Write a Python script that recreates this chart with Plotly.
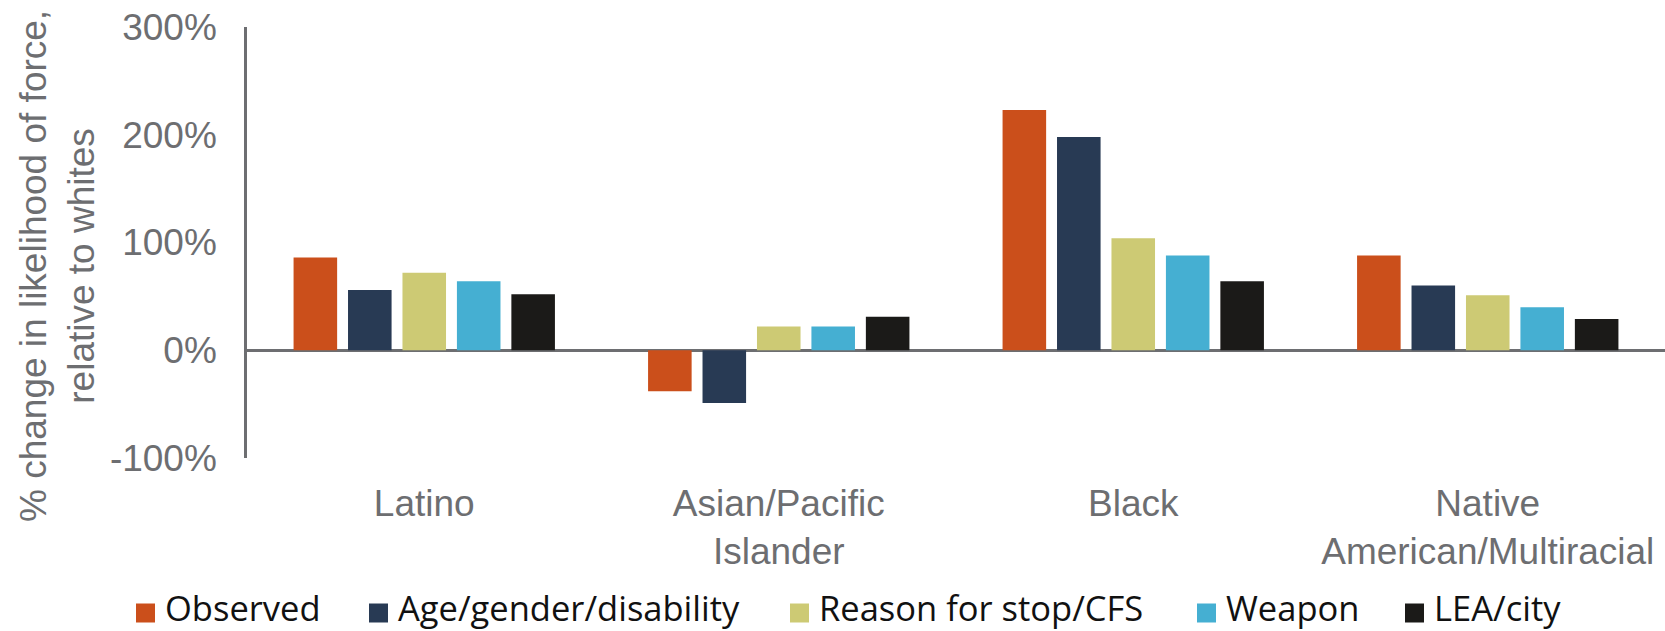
import plotly.graph_objects as go

# Groups along the x axis and the adjustment steps shown as bars
categories = ["Latino", "Asian/Pacific<br>Islander", "Black", "Native<br>American/Multiracial"]
series_names = ["Observed", "Age/gender/disability", "Reason for stop/CFS", "Weapon", "LEA/city"]

# % change in likelihood of force, relative to whites (one list per series)
observed = [86, -38, 223, 88]
age_gender_disability = [56, -49, 198, 60]
reason_for_stop = [72, 22, 104, 51]
weapon = [64, 22, 88, 40]
lea_city = [52, 31, 64, 29]

y_tick_values = [-100, 0, 100, 200, 300]
y_tick_labels = ["-100%", "0%", "100%", "200%", "300%"]

series_values = [observed, age_gender_disability, reason_for_stop, weapon, lea_city]
colors = ["#CB4F1B", "#283A54", "#CDCA74", "#45AFD2", "#1B1A18"]

GRAY = "#6D6E71"
AXIS_FONT = "Liberation Sans, Arial, sans-serif"

fig = go.Figure()
for name, vals, col in zip(series_names, series_values, colors):
    fig.add_trace(go.Bar(
        x=categories, y=vals, name=name,
        marker=dict(color=col, line=dict(width=0)),
        showlegend=False,
    ))

W, H = 1665, 631
L, T, B = 247, 27, 173
PW, PH = W - L, H - T - B


def px_x(px):
    return (px - L) / PW


def px_y(py):
    return 1 - (py - T) / PH


fig.update_layout(
    width=W, height=H,
    margin=dict(l=L, r=0, t=T, b=B),
    paper_bgcolor="white", plot_bgcolor="white",
    barmode="group", bargap=0.232, bargroupgap=0.2,
    font=dict(family=AXIS_FONT, color=GRAY),
    xaxis=dict(
        showline=False, ticks="", showgrid=False,
        tickfont=dict(size=37, color=GRAY, family=AXIS_FONT),
        ticklabelstandoff=20,
    ),
    yaxis=dict(
        range=[-100, 300], tickmode="array",
        tickvals=y_tick_values, ticktext=y_tick_labels,
        showgrid=False, showline=True, linecolor=GRAY, linewidth=2.5,
        zeroline=True, zerolinecolor=GRAY, zerolinewidth=2.5,
        ticks="", ticklabelstandoff=20,
        tickfont=dict(size=37, color=GRAY, family=AXIS_FONT),
    ),
)

# Rotated two-line y-axis title
fig.add_annotation(
    text="% change in likelihood of force,<br>relative to whites",
    textangle=-90, showarrow=False,
    xref="paper", yref="paper",
    x=px_x(57), y=px_y(266),
    xanchor="center", yanchor="middle",
    font=dict(size=37, color=GRAY, family=AXIS_FONT),
)

# Legend row: colour swatch followed by the series name
swatch_left = [136, 369, 790, 1197, 1405]
sw = 19
legend_cy = 613
for name, col, sx in zip(series_names, colors, swatch_left):
    fig.add_shape(
        type="rect", xref="paper", yref="paper",
        x0=px_x(sx), x1=px_x(sx + sw),
        y0=px_y(legend_cy + sw / 2), y1=px_y(legend_cy - sw / 2),
        fillcolor=col, line=dict(width=0),
    )
    fig.add_annotation(
        text=name, showarrow=False, xref="paper", yref="paper",
        x=px_x(sx + sw + 8), y=px_y(633),
        xanchor="left", yanchor="bottom",
        font=dict(size=34.5, color="#111111", family="Open Sans, sans-serif"),
    )

fig.write_html("out.html")
